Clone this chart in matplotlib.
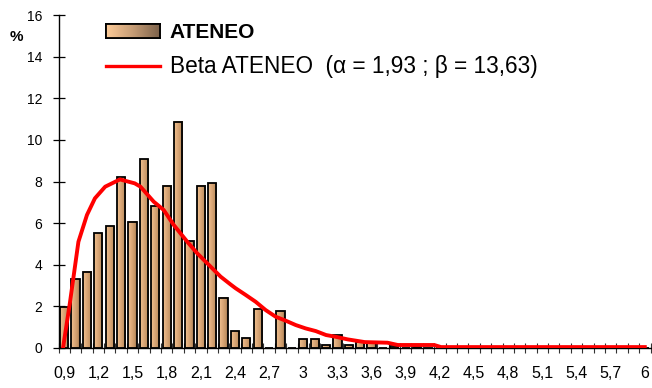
import numpy as np
import matplotlib
matplotlib.use("Agg")
import matplotlib.pyplot as plt
from matplotlib.colors import LinearSegmentedColormap
from matplotlib.lines import Line2D
from matplotlib.patches import Rectangle

plt.rcParams['font.family'] = ['Liberation Sans', 'DejaVu Sans']

# ---- data ----
categories = [round(0.9 + 0.1 * i, 1) for i in range(52)]
bar_values = [1.94, 3.29, 3.66, 5.50, 5.87, 8.20, 6.07, 9.07, 6.82, 7.80,
              10.88, 5.12, 7.80, 7.91, 2.41, 0.79, 0.48, 1.85, 0.0, 1.75,
              0.0, 0.40, 0.40, 0.11, 0.60, 0.11, 0.29, 0.24, 0.0, 0.07,
              0.0, 0.03, 0.0, 0.0, 0.03, 0.0, 0.0, 0.0, 0.0, 0.03,
              0.0, 0.0, 0.0, 0.0, 0.0, 0.0, 0.0, 0.0, 0.0, 0.0,
              0.0, 0.0]
curve_x = [0.89, 0.95, 1.025, 1.10, 1.17, 1.26, 1.39, 1.52, 1.57, 1.686,
           1.774, 1.862, 1.981, 2.069, 2.157, 2.274, 2.36, 2.406, 2.494, 2.582,
           2.670, 2.758, 2.846, 2.934, 3.02, 3.11, 3.20, 3.29, 3.39, 3.54,
           3.74, 3.83, 4.15, 4.21, 6.0]
curve_y = [0.0, 2.15, 5.1, 6.39, 7.19, 7.75, 8.1, 7.91, 7.75, 7.03,
           6.63, 5.91, 5.10, 4.54, 4.06, 3.42, 3.05, 2.86, 2.54, 2.21,
           1.81, 1.49, 1.30, 1.09, 0.93, 0.80, 0.61, 0.52, 0.40, 0.27,
           0.24, 0.13, 0.13, 0.03, 0.03]
tick_labels = {i: (f"{c:.1f}".replace('.', ',') if c != int(c) else str(int(c)))
               for i, c in enumerate(categories) if i % 3 == 0}
bar_label = "ATENEO"
line_label = "Beta ATENEO  (α = 1,93 ; β = 13,63)"

# ---- figure ----
W, H = 652, 388
fig = plt.figure(figsize=(W / 100, H / 100), dpi=100)
ax = fig.add_axes([58.5 / W, 40.3 / H, (650.5 - 58.5) / W, (347.7 - 15.3) / H])

x = np.arange(len(categories))
bw = 0.72
bar_cmap = LinearSegmentedColormap.from_list(
    'bar', [(0, '#F2C290'), (0.45, '#D9A676'), (0.8, '#C29262'), (1.0, '#7F6045')])
grad = np.linspace(0, 1, 64).reshape(1, -1)
for xi, v in zip(x, bar_values):
    if v > 0:
        ax.imshow(grad, extent=[xi - bw / 2, xi + bw / 2, 0, v], aspect='auto',
                  cmap=bar_cmap, zorder=2, interpolation='bilinear')
ax.bar(x, bar_values, width=bw, facecolor='none', edgecolor='black',
       linewidth=1.3, zorder=2.5)

cx = (np.array(curve_x) - 0.9) * 10
ax.plot(cx, curve_y, color='#FF0000', lw=2.8, zorder=3, solid_joinstyle='round')

ax.set_xlim(-0.5, len(categories) - 0.5)
ax.set_ylim(0, 16)
ax.set_aspect('auto')
for s in ['top', 'right']:
    ax.spines[s].set_visible(False)
for s in ['left', 'bottom']:
    ax.spines[s].set_linewidth(1.0)

ax.set_yticks(np.arange(0, 17, 2))
ax.tick_params(axis='y', direction='inout', length=8.9, width=0.9, labelsize=10, pad=7.4)
ax.set_xticks(np.arange(-0.5, len(categories), 1))
ax.tick_params(axis='x', which='major', direction='inout', length=7, width=0.8,
               color='#333333', labelbottom=False)
ax.set_xticks(list(tick_labels.keys()), minor=True)
ax.set_xticklabels(list(tick_labels.values()), minor=True)
ax.tick_params(axis='x', which='minor', length=0, labelsize=11.5, pad=13.5)

fig.text(16 / W, 1 - 37 / H, '%', ha='center', va='center', fontsize=11, fontweight='bold')

# ---- legend ----
h_bar = Rectangle((0, 0), 1, 1, facecolor='#C9A27C', edgecolor='black', lw=1.3)
h_line = Line2D([], [], color='#FF0000', lw=2.4)
leg = ax.legend([h_bar, h_line], [bar_label, line_label], loc='upper left',
                bbox_to_anchor=(106 / W, 1 - 23 / H), bbox_transform=fig.transFigure,
                frameon=False, fontsize=15, handlelength=2.6, handleheight=0.65,
                handletextpad=0.45, labelspacing=0.62, borderpad=0, borderaxespad=0)
leg.get_texts()[0].set_fontweight('bold')
leg.get_texts()[1].set_fontsize(16.3)

fig.canvas.draw()
bb = leg.legend_handles[0].get_window_extent()
lax = fig.add_axes([bb.x0 / W, bb.y0 / H, bb.width / W, bb.height / H])
leg_cmap = LinearSegmentedColormap.from_list('leg', ['#FDCB98', '#C49B74', '#7A6049'])
lax.imshow(grad, aspect='auto', cmap=leg_cmap, extent=[0, 1, 0, 1], interpolation='bilinear')
lax.set_xticks([]); lax.set_yticks([])
for s in lax.spines.values():
    s.set_linewidth(1.3)

fig.savefig('out.png', dpi=100)
